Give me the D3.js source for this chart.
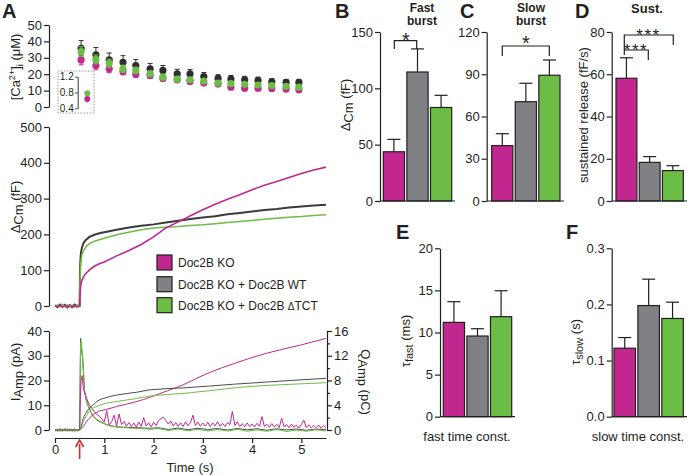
<!DOCTYPE html>
<html><head><meta charset="utf-8">
<script src="https://cdn.jsdelivr.net/npm/d3@7"></script>
<style>
body{margin:0;background:#fff}
svg{display:block;font-family:"Liberation Sans",Arial,Helvetica,sans-serif}
</style>
</head><body>
<svg id="c" width="688" height="475"></svg>
<script>
// ---------------- DATA ----------------
const groups = ["Doc2B KO", "Doc2B KO + Doc2B WT", "Doc2B KO + Doc2B \u0394TCT"];
const colors = {KO:"#c1278f", WT:"#808184", TCT:"#6cbd45", WTtrace:"#3b3b3b"};

// Panel A top: [Ca2+]i (µM)
const tCa   = [0.53,0.83,1.10,1.38,1.64,1.93,2.19,2.48,2.74,3.02,3.31,3.57,3.85,4.12,4.40,4.69,4.95];
const caWT  = [35.8,31.8,28.7,27.3,25.3,23.3,22.3,20.2,20.2,18.6,17.4,17.0,16.6,16.2,15.4,15.0,15.0];
const caTCT = [33.8,29.0,26.7,23.3,22.3,20.2,18.2,17.0,16.6,15.8,14.6,14.2,13.8,13.4,13.0,12.6,12.1];
const caKO  = [28.7,25.3,23.3,21.7,20.0,19.2,17.4,16.6,15.6,14.6,14.0,12.1,11.5,11.5,11.3,10.9,10.5];
const caWTerr  = [4.7,4.5,4.2,4.0,3.6,3.3,3.0,2.8,2.6,2.4,2.3,2.2,2.1,2.0,1.9,1.8,1.8];
const caTCTerr = [3.0,2.7,2.5,2.2,2.0,1.8,1.7,1.6,1.5,1.4,1.3,1.3,1.2,1.2,1.1,1.1,1.0];
const caKOerr  = [3.0,2.6,2.4,2.1,1.9,1.8,1.6,1.5,1.4,1.3,1.2,1.2,1.1,1.1,1.0,1.0,1.0];
const caTicks = [0,10,20,30,40,50];
// inset (pre-stimulus)
const insetVals = {TCT:0.78, KO:0.635};
const insetErr  = {TCT:0.06, KO:0.09};
const insetTicks = [0.4,0.8,1.2];

// Panel A middle: ΔCm (fF)
const tCm   = [0,0.05,0.1,0.15,0.2,0.25,0.3,0.35,0.4,0.45,0.5,0.505,0.51,0.52,0.53,0.55,0.58,0.62,0.7,0.8,0.9,1.0,1.25,1.5,1.75,2.0,2.25,2.5,2.75,3.0,3.25,3.5,3.75,4.0,4.25,4.5,4.75,5.0,5.25,5.5];
const cmWT  = [2,-3,4,-2,3,-4,2,-3,4,-2,0,70,110,138,152,165,176,184,193,199,203,206,213,219,224,228,233,238,243,247,251,256,260,264,268,271,275,278,281,283];
const cmTCT = [-2,3,-3,4,-2,3,-3,2,-3,3,0,50,85,115,129,145,155,164,174,181,185,189,199,206,213,218,220,222,225,227,230,233,236,239,242,245,248,250,253,255];
const cmKO  = [1,-2,2,-3,1,-2,3,-2,1,-2,0,20,35,54,63,73,82,90,101,111,118,123,140,155,172,193,218,235,252,269,284,298,311,325,337,348,359,370,380,388];
const cmTicks = [0,100,200,300,400,500];

// Panel A bottom: I_Amp (pA) and Q_Amp (pC)
const tBase = [0,0.05,0.1,0.15,0.2,0.25,0.3,0.35,0.4,0.45,0.5];
const iBaseWT  = [0.3,-0.5,0.4,-0.4,0.5,-0.3,0.2,-0.5,0.4,-0.3,0];
const iBaseTCT = [-0.4,0.3,-0.5,0.4,-0.3,0.5,-0.4,0.3,-0.5,0.2,0];
const iBaseKO  = [0.2,-0.3,0.5,-0.5,0.3,-0.4,0.4,-0.2,0.3,-0.4,0];
const tIWT  = [0.51,0.52,0.53,0.56,0.6,0.64,0.68,0.73,0.78,0.85,0.98,1.1,1.25,1.5,1.7,1.93,2.1,2.3,2.5,2.7,2.9,3.1,3.3,3.5,3.7,3.9,4.1,4.3,4.5,4.7,4.9,5.1,5.3,5.5];
const iWT   = [20,37,34,29,15.5,11.5,9.4,7,5.4,4,2.7,1.8,1.3,1.0,0.9,0.7,0.9,0.2,0.8,0.1,0.7,0.2,0.6,0.0,0.6,0.1,0.5,-0.1,0.5,0.0,0.4,-0.1,0.4,0.1];
const tITCT = [0.51,0.52,0.53,0.56,0.6,0.64,0.68,0.73,0.78,0.85,0.98,1.1,1.25,1.5,1.7,1.93,2.1,2.3,2.5,2.7,2.9,3.1,3.3,3.5,3.7,3.9,4.1,4.3,4.5,4.7,4.9,5.1,5.3,5.5];
const iTCT  = [18,35,36,30,16,11.8,9.6,7.2,5.6,4.2,2.8,1.8,1.2,0.8,0.6,0.3,0.6,-0.2,0.4,-0.3,0.3,-0.4,0.2,-0.4,0.3,-0.5,0.1,-0.5,0.2,-0.6,0.0,-0.5,0.1,-0.4];
const tIKO  = [0.51,0.53,0.55,0.575,0.6,0.64,0.7,0.75,0.8,0.85,0.91,0.95,
  1.00,1.05,1.10,1.15,1.20,1.25,1.30,1.35,1.40,1.45,1.50,1.55,1.60,1.65,1.70,1.75,1.80,1.85,1.90,1.95,
  2.00,2.05,2.10,2.15,2.20,2.25,2.30,2.35,2.40,2.45,2.50,2.55,2.60,2.65,2.70,2.75,2.80,2.85,2.90,2.95,
  3.00,3.05,3.10,3.15,3.20,3.25,3.30,3.35,3.40,3.45,3.50,3.55,3.60,3.65,3.70,3.75,3.80,3.85,3.90,3.95,
  4.00,4.05,4.10,4.15,4.20,4.25,4.30,4.35,4.40,4.45,4.50,4.55,4.60,4.65,4.70,4.75,4.80,4.85,4.90,4.95,
  5.00,5.05,5.10,5.15,5.20,5.25,5.30,5.35,5.40,5.45,5.50];
const iKO   = [10,20,22,17,15,12.8,10,8.8,7.2,6.3,5.4,4.5,
  3.2,7.8,2.0,3.4,6.0,1.6,6.5,2.2,3.5,1.5,3.0,1.4,2.8,1.2,3.2,1.5,5.0,1.6,2.9,1.3,
  3.1,1.8,3.8,4.6,5.2,3.9,2.4,3.6,1.6,3.0,1.5,2.9,1.4,3.3,1.7,3.0,6.0,1.8,3.2,1.5,
  2.8,1.6,3.1,1.4,2.9,1.7,3.4,1.5,2.7,1.4,3.0,2.2,7.5,1.8,3.3,1.5,2.6,1.3,2.9,1.4,
  2.5,1.2,2.7,1.5,5.4,1.4,2.4,1.1,2.6,1.2,2.3,1.0,4.7,1.3,2.2,0.9,2.4,1.1,2.0,0.8,
  2.2,4.0,1.0,2.1,0.8,1.9,0.9,2.0,0.7,1.8,1.0];
const tQ   = [0,0.5,0.575,0.64,0.71,0.78,0.85,0.91,0.98,1.25,1.66,1.93,2.13,2.27,2.6,2.94,3.14,3.62,4.29,4.97,5.5];
const qWT  = [0,0,1.9,2.9,3.6,4.1,4.6,4.9,5.1,5.65,6.1,6.5,6.6,6.7,6.8,7.0,7.1,7.4,7.75,8.1,8.35];
const qTCT = [0,0,1.34,2.3,3.2,3.6,3.8,4.0,4.2,4.6,5.1,5.5,5.65,5.75,5.9,6.2,6.35,6.8,7.2,7.45,7.65];
const qKO  = [0,0,0.6,1.34,2.0,2.5,2.85,3.1,3.2,3.8,4.6,5.3,5.9,6.3,7.3,8.6,9.3,10.7,12.4,13.7,14.8];
const iTicks = [0,10,20,30,40];
const qTicks = [0,2,4,6,8,10,12,14,16];
const timeTicks = [0,1,2,3,4,5];
const stimTime = 0.5;

// Bar panels (mean, SEM) order: KO, WT, ΔTCT
const fastBurst = [43.7,114.5,83.0];   const fastBurstErr = [11.0,20.5,10.8];
const slowBurst = [39.3,70.5,89.3];    const slowBurstErr = [8.5,13.1,10.8];
const sustained = [58.1,18.3,14.4];    const sustainedErr = [9.7,2.7,2.3];
const tauFast   = [11.2,9.58,11.88];   const tauFastErr   = [2.46,0.87,3.08];
const tauSlow   = [0.122,0.198,0.175]; const tauSlowErr   = [0.019,0.047,0.029];
const ticksB = [0,50,100,150], ticksC = [0,30,60,90,120], ticksD = [0,20,40,60,80];
const ticksE = [0,5,10,15,20], ticksF = [0,0.1,0.2,0.3];

// ---------------- DRAW ----------------
const svg = d3.select("#c");
const INK = "#231f20";
const barColors = [colors.KO, colors.WT, colors.TCT];

function styleAxis(g, fs){
  g.attr("font-size",fs||13).attr("font-family",null);
  g.selectAll("path.domain").attr("stroke",INK).attr("stroke-width",1.2);
  g.selectAll(".tick line").attr("stroke",INK).attr("stroke-width",1.2);
  g.selectAll(".tick text").attr("fill",INK).attr("font-size",fs||13);
}
function rotLabel(x, y, parts, angle){
  const t = svg.append("text").attr("transform",`translate(${x},${y}) rotate(${angle})`)
    .attr("text-anchor","middle").attr("font-size",13).attr("fill",INK);
  parts.forEach(p=>{
    const s = t.append("tspan").text(p.t);
    if(p.size) s.attr("font-size",p.size);
    if(p.dy) s.attr("dy",p.dy);
  });
  return t;
}
function multiText(lines, fs, weight, ls){
  const t = svg.append("text").attr("text-anchor","middle").attr("font-size",fs).attr("fill",INK);
  if(weight) t.attr("font-weight",weight);
  if(ls) t.attr("letter-spacing",ls);
  lines.forEach(l=>t.append("tspan").attr("x",l.x).attr("y",l.y).text(l.t));
  return t;
}

// shared time scale
const xT = d3.scaleLinear().domain([0,5.5]).range([55,326]);

// ---- Ca panel ----
const yCa = d3.scaleLinear().domain([0,50]).range([107,25]);
styleAxis(svg.append("g").attr("transform","translate(49,0)")
  .call(d3.axisLeft(yCa).tickValues(caTicks).tickSize(5).tickSizeOuter(0).tickPadding(2)));
function caSeries(vals, errs, col){
  const g = svg.append("g");
  vals.forEach((v,i)=>{
    const x = xT(tCa[i]);
    g.append("line").attr("x1",x).attr("x2",x).attr("y1",yCa(v-errs[i])).attr("y2",yCa(v+errs[i]))
      .attr("stroke",col).attr("stroke-width",1);
    [v-errs[i], v+errs[i]].forEach(e=>g.append("line").attr("x1",x-2.5).attr("x2",x+2.5)
      .attr("y1",yCa(e)).attr("y2",yCa(e)).attr("stroke",col).attr("stroke-width",1));
    g.append("circle").attr("cx",x).attr("cy",yCa(v)).attr("r",3.6).attr("fill",col);
  });
}
caSeries(caWT, caWTerr, "#2e2e2e");
caSeries(caKO, caKOerr, colors.KO);
caSeries(caTCT, caTCTerr, colors.TCT);
rotLabel(20, 67, [{t:"[Ca"},{t:"2+",size:9,dy:-5},{t:"]",dy:5},{t:"i",size:9,dy:3},{t:" (\u03BCM)",dy:-3}], -90);

// inset
svg.append("rect").attr("x",58).attr("y",71).attr("width",36).attr("height",42)
  .attr("fill","none").attr("stroke","#9a9a9a").attr("stroke-width",1).attr("stroke-dasharray","1.5,1.5");
const yIn = d3.scaleLinear().domain([0.4,1.2]).range([108.3,76.7]);
const gin = svg.append("g").attr("transform","translate(77.7,0)")
  .call(d3.axisLeft(yIn).tickValues(insetTicks).tickSize(2.5).tickSizeOuter(0).tickPadding(1.5).tickFormat(d3.format(".1f")));
styleAxis(gin, 10); gin.selectAll("path.domain,.tick line").attr("stroke-width",0.9);
[["KO",colors.KO],["TCT",colors.TCT]].forEach(([k,col])=>{
  const x = 87.3, v = insetVals[k], e = insetErr[k];
  svg.append("line").attr("x1",x).attr("x2",x).attr("y1",yIn(v-e)).attr("y2",yIn(v+e)).attr("stroke",col);
  svg.append("circle").attr("cx",x).attr("cy",yIn(v)).attr("r",3).attr("fill",col);
});

// ---- Cm panel ----
const yCm = d3.scaleLinear().domain([0,500]).range([306,127]);
styleAxis(svg.append("g").attr("transform","translate(49,0)")
  .call(d3.axisLeft(yCm).tickValues(cmTicks).tickSize(5).tickSizeOuter(0).tickPadding(2)));
const lineCm = d3.line().x((d,i)=>xT(tCm[i])).y(d=>yCm(d));
svg.append("path").attr("d",lineCm(cmWT)).attr("fill","none").attr("stroke",colors.WTtrace).attr("stroke-width",2);
svg.append("path").attr("d",lineCm(cmTCT)).attr("fill","none").attr("stroke",colors.TCT).attr("stroke-width",1.5);
svg.append("path").attr("d",lineCm(cmKO)).attr("fill","none").attr("stroke",colors.KO).attr("stroke-width",1.6);
rotLabel(20, 207, [{t:"\u0394"},{t:"Cm",dy:3},{t:" (fF)",dy:-3}], -90);

// legend
const legKeys = [colors.KO, colors.WT, colors.TCT];
const legY = [255, 276.7, 297.7];
groups.forEach((g,i)=>{
  svg.append("rect").attr("x",157).attr("y",legY[i]).attr("width",15).attr("height",15)
    .attr("fill",legKeys[i]).attr("stroke",INK).attr("stroke-width",1.2);
  const t = svg.append("text").attr("x",178).attr("y",legY[i]+12).attr("font-size",12).attr("fill",INK);
  if(i===2){ t.append("tspan").text("Doc2B KO + Doc2B "); t.append("tspan").attr("font-size",10).text("\u0394"); t.append("tspan").text("TCT"); }
  else t.text(g);
});

// ---- current / charge panel ----
const yI = d3.scaleLinear().domain([0,40]).range([430,331]);
const yQ = d3.scaleLinear().domain([0,16]).range([430,331]);
styleAxis(svg.append("g").attr("transform","translate(49,0)")
  .call(d3.axisLeft(yI).tickValues(iTicks).tickSize(5).tickSizeOuter(0).tickPadding(2)));
const gq = svg.append("g").attr("transform","translate(327,0)")
  .call(d3.axisRight(yQ).tickValues(qTicks).tickSize(5).tickSizeOuter(0).tickPadding(2).tickFormat(d=>d%4===0?d:""));
styleAxis(gq);
gq.selectAll(".tick").filter(d=>d%4!==0).select("line").attr("x2",3);
const gx = svg.append("g").attr("transform","translate(0,438)")
  .call(d3.axisBottom(xT).tickValues(timeTicks).tickSize(5).tickSizeOuter(0).tickPadding(2).tickFormat(d3.format("d")));
styleAxis(gx);
svg.append("text").attr("x",190).attr("y",472).attr("text-anchor","middle").attr("font-size",13).attr("fill",INK).text("Time (s)");
rotLabel(20, 372, [{t:"I"},{t:"Amp",dy:3},{t:" (pA)",dy:-3}], -90);
rotLabel(361, 382, [{t:"Q"},{t:"Amp",dy:3},{t:" (pC)",dy:-3}], 90);

function curLine(ts, vs, col, w){
  const pts = tBase.map((t,i)=>[t, vs.base[i]]).concat(ts.map((t,i)=>[t, vs.v[i]]));
  svg.append("path").attr("d",d3.line().x(d=>xT(d[0])).y(d=>yI(d[1]))(pts))
    .attr("fill","none").attr("stroke",col).attr("stroke-width",w);
}
curLine(tIWT, {base:iBaseWT, v:iWT}, "#4a4a4a", 1);
curLine(tITCT, {base:iBaseTCT, v:iTCT}, colors.TCT, 1.1);
curLine(tIKO, {base:iBaseKO, v:iKO}, colors.KO, 1);
const lineQ = d3.line().x((d,i)=>xT(tQ[i])).y(d=>yQ(d)).curve(d3.curveMonotoneX);
svg.append("path").attr("d",lineQ(qKO)).attr("fill","none").attr("stroke",colors.KO).attr("stroke-width",1);
svg.append("path").attr("d",lineQ(qWT)).attr("fill","none").attr("stroke","#4a4a4a").attr("stroke-width",1);
svg.append("path").attr("d",lineQ(qTCT)).attr("fill","none").attr("stroke",colors.TCT).attr("stroke-width",1);

// red arrow at stimulus
const ax = xT(stimTime);
svg.append("line").attr("x1",ax).attr("x2",ax).attr("y1",444).attr("y2",459).attr("stroke","#d42a2a").attr("stroke-width",1.6);
svg.append("path").attr("d",`M${ax-4},${447} L${ax},${440} L${ax+4},${447}`).attr("fill","none").attr("stroke","#d42a2a").attr("stroke-width",1.6);

// ---- bar panels ----
function barPanel(o){
  const x = d3.scaleBand().domain(groups).range([o.b0,o.b1]).paddingInner(0.1).paddingOuter(0);
  const y = d3.scaleLinear().domain(o.dom).range([o.ybot,o.ytop]);
  const g = svg.append("g");
  o.vals.forEach((v,i)=>{
    const bx = x(groups[i]), bw = x.bandwidth(), cx = bx+bw/2;
    g.append("line").attr("x1",cx).attr("x2",cx).attr("y1",y(v)).attr("y2",y(v+o.errs[i])).attr("stroke",INK).attr("stroke-width",1.2);
    g.append("line").attr("x1",cx-6.5).attr("x2",cx+6.5).attr("y1",y(v+o.errs[i])).attr("y2",y(v+o.errs[i])).attr("stroke",INK).attr("stroke-width",1.2);
    g.append("rect").attr("x",bx).attr("y",y(v)).attr("width",bw).attr("height",y(0)-y(v))
      .attr("fill",barColors[i]).attr("stroke",INK).attr("stroke-width",1.2);
  });
  const ga = svg.append("g").attr("transform",`translate(${o.ax},0)`)
    .call(d3.axisLeft(y).tickValues(o.ticks).tickSize(5).tickSizeOuter(0).tickPadding(2).tickFormat(o.fmt||(d=>d)));
  styleAxis(ga);
  svg.append("line").attr("x1",o.ax).attr("x2",o.axEnd).attr("y1",y(0)).attr("y2",y(0)).attr("stroke",INK).attr("stroke-width",1.2);
  return {x,y};
}
function bold(x, y, s, fs, anchor){
  svg.append("text").attr("x",x).attr("y",y).attr("text-anchor",anchor||"middle").attr("font-size",fs).attr("font-weight","bold").attr("fill",INK).text(s);
}
function bracket(d){
  svg.append("path").attr("d",d).attr("fill","none").attr("stroke",INK).attr("stroke-width",1.2);
}

// B
barPanel({vals:fastBurst, errs:fastBurstErr, dom:[0,150], ticks:ticksB, b0:383.3, b1:451.7, ax:380, axEnd:455, ybot:201, ytop:32});
rotLabel(350, 105, [{t:"\u0394"},{t:"Cm",dy:3},{t:" (fF)",dy:-3}], -90);
bracket("M394.3,49 V40.7 H416.7 V49");
multiText([{x:406,y:46.5,t:"*"}], 20);
multiText([{x:422,y:12,t:"Fast"},{x:422,y:25,t:"burst"}], 12, "bold");
// C
barPanel({vals:slowBurst, errs:slowBurstErr, dom:[0,120], ticks:ticksC, b0:491.7, b1:560, ax:486.7, axEnd:564, ybot:201, ytop:32});
bracket("M502.3,56 V46 H549.3 V56");
multiText([{x:526,y:49.5,t:"*"}], 20);
multiText([{x:531,y:12,t:"Slow"},{x:531,y:25,t:"burst"}], 12, "bold");
// D
barPanel({vals:sustained, errs:sustainedErr, dom:[0,80], ticks:ticksD, b0:616, b1:683.3, ax:611.7, axEnd:687, ybot:201, ytop:32});
rotLabel(588, 115, [{t:"sustained release (fF/s)"}], -90);
bracket("M624.3,55 V35 H673.3 V45");
bracket("M624.3,50 H648.3 V60");
multiText([{x:636,y:56,t:"***"},{x:648.5,y:40.5,t:"***"}], 17, null, 1.5);
bold(647, 13, "Sust.", 13);
// E
barPanel({vals:tauFast, errs:tauFastErr, dom:[0,20], ticks:ticksE, b0:443.3, b1:511.7, ax:440, axEnd:515, ybot:416.7, ytop:248.3});
rotLabel(410, 341, [{t:"\u03C4"},{t:"fast",dy:3,size:11},{t:" (ms)",dy:-3}], -90);
svg.append("text").attr("x",467).attr("y",441).attr("text-anchor","middle").attr("font-size",13).attr("fill",INK).text("fast time const.");
// F
barPanel({vals:tauSlow, errs:tauSlowErr, dom:[0,0.3], ticks:ticksF, b0:614, b1:683.3, ax:611.7, axEnd:687, ybot:416.7, ytop:248.3, fmt:d3.format(".1f")});
rotLabel(580, 342, [{t:"\u03C4"},{t:"slow",dy:3,size:11},{t:" (s)",dy:-3}], -90);
svg.append("text").attr("x",638).attr("y",441).attr("text-anchor","middle").attr("font-size",13).attr("fill",INK).text("slow time const.");

// panel letters
bold(2, 18, "A", 20, "start");
bold(335, 18, "B", 20, "start");
bold(460, 18, "C", 20, "start");
bold(575, 18, "D", 20, "start");
bold(396, 239, "E", 20, "start");
bold(566, 239, "F", 20, "start");
</script>
</body></html>
